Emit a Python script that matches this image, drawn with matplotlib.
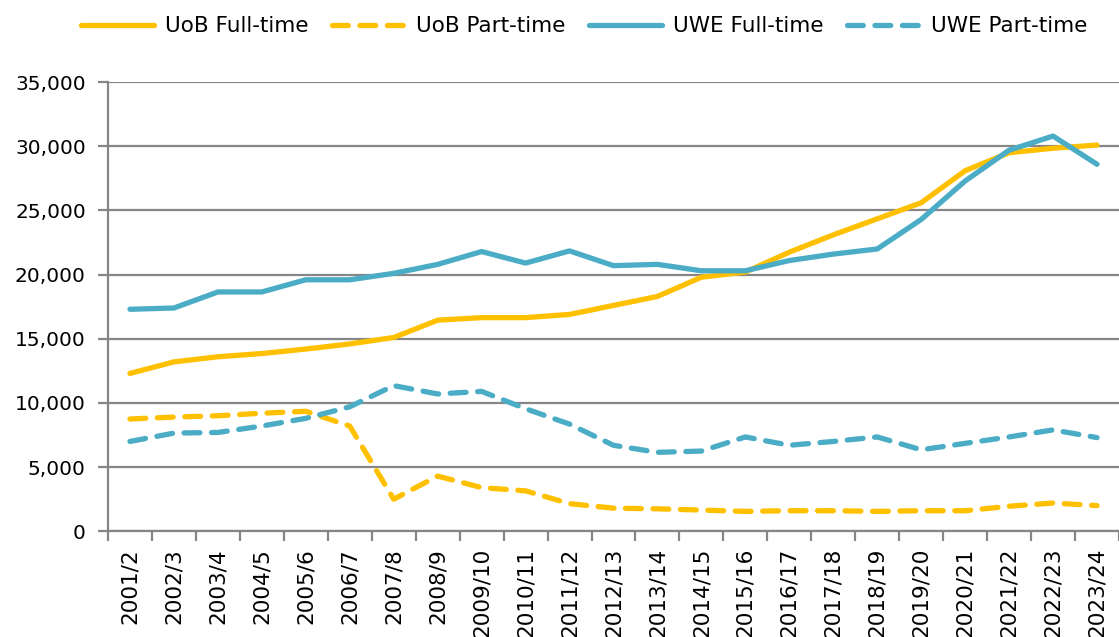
import matplotlib.pyplot as plt
import numpy as np
from matplotlib.ticker import FuncFormatter, FixedLocator

years = ['2001/2', '2002/3', '2003/4', '2004/5', '2005/6', '2006/7', '2007/8',
         '2008/9', '2009/10', '2010/11', '2011/12', '2012/13', '2013/14',
         '2014/15', '2015/16', '2016/17', '2017/18', '2018/19', '2019/20',
         '2020/21', '2021/22', '2022/23', '2023/24']

uob_full = [12300, 13200, 13600, 13850, 14200, 14600, 15100, 16450, 16650, 16650,
            16900, 17600, 18300, 19800, 20200, 21750, 23100, 24350, 25600, 28100,
            29500, 29850, 30100]
uob_part = [8750, 8900, 9000, 9200, 9350, 8200, 2500, 4300, 3400, 3150,
            2150, 1800, 1750, 1650, 1550, 1600, 1600, 1550, 1600, 1600,
            1950, 2200, 2000]
uwe_full = [17300, 17400, 18650, 18650, 19600, 19600, 20100, 20800, 21800, 20900,
            21850, 20700, 20800, 20300, 20300, 21100, 21600, 22000, 24300, 27300,
            29700, 30800, 28600]
uwe_part = [7000, 7650, 7700, 8200, 8800, 9700, 11350, 10700, 10900, 9550,
            8350, 6700, 6150, 6250, 7350, 6700, 7000, 7350, 6350, 6850,
            7350, 7900, 7300]

gold = '#FFC000'
blue = '#4BACC6'
grey = '#868686'

fig = plt.figure(figsize=(11.19, 6.37), dpi=100)
ax = fig.add_axes([0.0965, 0.166, 0.9035, 0.705])

x = np.arange(len(years))
lw = 3.8
dash = (3.0, 2.2)
ax.plot(x, uob_full, color=gold, lw=lw, solid_capstyle='round', label='UoB Full-time', zorder=3)
ax.plot(x, uob_part, color=gold, lw=lw, dashes=dash, dash_capstyle='round', label='UoB Part-time', zorder=3)
ax.plot(x, uwe_full, color=blue, lw=lw, solid_capstyle='round', label='UWE Full-time', zorder=3)
ax.plot(x, uwe_part, color=blue, lw=lw, dashes=dash, dash_capstyle='round', label='UWE Part-time', zorder=3)

ax.set_xlim(-0.5, len(years) - 0.5)
ax.set_ylim(0, 35000)
ax.set_yticks(np.arange(0, 35001, 5000))
ax.yaxis.set_major_formatter(FuncFormatter(lambda v, p: f'{int(v):,}'))
ax.grid(axis='y', color=grey, lw=1.6, zorder=1)

ax.set_xticks(x)
ax.set_xticklabels(years, rotation=90, fontsize=15.5)
ax.xaxis.set_minor_locator(FixedLocator(np.arange(-0.5, len(years), 1)))
ax.tick_params(axis='x', which='major', length=0, pad=12)
ax.tick_params(axis='x', which='minor', length=7, width=1.6, color=grey)
ax.tick_params(axis='y', length=7, width=1.6, color=grey, labelsize=14.5, pad=9)

for s in ['top', 'right']:
    ax.spines[s].set_visible(False)
for s in ['left', 'bottom']:
    ax.spines[s].set_color(grey)
    ax.spines[s].set_linewidth(1.6)

leg = fig.legend(loc='upper center', bbox_to_anchor=(0.522, 1.005), ncol=4, frameon=False,
                 fontsize=15.5, handlelength=3.4, columnspacing=1.1, handletextpad=0.5)

fig.savefig('out.png', dpi=100)
